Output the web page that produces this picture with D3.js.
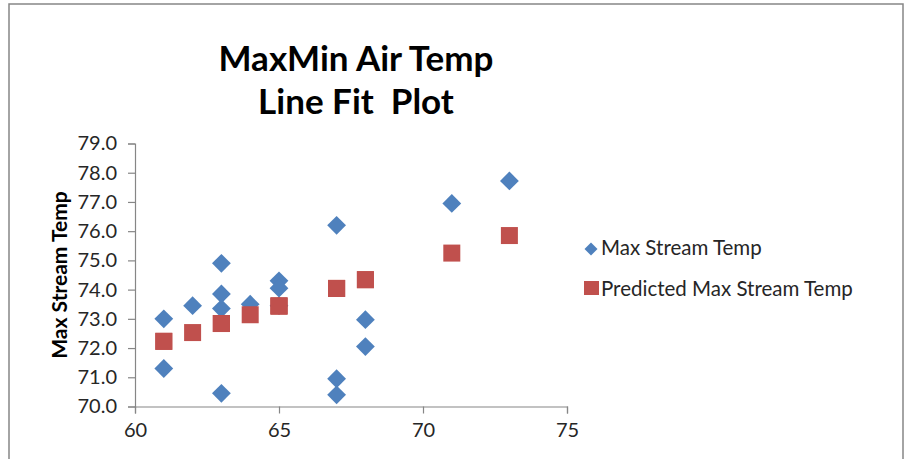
<!DOCTYPE html>
<html><head><meta charset="utf-8">
<script src="https://cdn.jsdelivr.net/npm/d3@7"></script>
<style>body{margin:0;background:#fff}svg{display:block}</style>
</head><body>
<script>
const airTemp =        [61, 61, 62, 63, 63, 63, 63, 64, 65, 65, 65, 67, 67, 67, 68, 68, 71, 73];
const maxStreamTemp =  [73.0, 71.3, 73.45, 74.9, 73.85, 73.35, 70.45, 73.5, 74.3, 74.05, 73.45, 76.2, 70.95, 70.4, 72.97, 72.05, 76.95, 77.72];
const predictedTemp =  [72.23, 72.23, 72.53, 72.84, 72.84, 72.84, 72.84, 73.14, 73.44, 73.44, 73.44, 74.04, 74.04, 74.04, 74.34, 74.34, 75.25, 75.85];
const xTicks = [60, 65, 70, 75];
const yTicks = [70, 71, 72, 73, 74, 75, 76, 77, 78, 79];
const titleLines = ["MaxMin Air Temp", "Line Fit  Plot"];
const seriesNames = ["Max Stream Temp", "Predicted Max Stream Temp"];

const W = 905, H = 459;
const svg = d3.select("body").append("svg").attr("width", W).attr("height", H);
svg.append("rect").attr("x", 9).attr("y", 4).attr("width", 894).attr("height", 470)
  .attr("fill", "#fff").attr("stroke", "#868686").attr("stroke-width", 1.5);

const x = d3.scaleLinear().domain([60, 75]).range([135, 567]);
const y = d3.scaleLinear().domain([70, 79]).range([406.5, 143.5]);

const font = "Lato, 'Open Sans', sans-serif";

// title
svg.append("g").selectAll("text").data(titleLines).join("text")
  .attr("x", 356).attr("y", (d, i) => 71 + i * 43)
  .attr("text-anchor", "middle").attr("font-family", font).attr("font-weight", "bold")
  .attr("font-size", 35).attr("fill", "#000").style("white-space", "pre").text(d => d);

// axes
const gx = svg.append("g").attr("transform", `translate(0,${y(70)})`)
  .call(d3.axisBottom(x).tickValues(xTicks).tickSize(7).tickPadding(9).tickFormat(d3.format("d")));
const gy = svg.append("g").attr("transform", `translate(${x(60)},0)`)
  .call(d3.axisLeft(y).tickValues(yTicks).tickSize(7).tickPadding(11).tickFormat(d3.format(".1f")));
[gx, gy].forEach(g => {
  g.select(".domain").attr("stroke", "#868686").attr("stroke-width", 1.2);
  g.selectAll(".tick line").attr("stroke", "#868686").attr("stroke-width", 1.2);
  g.selectAll(".tick text").attr("font-family", font).attr("font-size", 20).attr("fill", "#262626");
});

// y axis title
svg.append("text").attr("transform", `translate(67,${(y(70)+y(79))/2}) rotate(-90)`)
  .attr("text-anchor", "middle").attr("font-family", font).attr("font-weight", "bold")
  .attr("font-size", 21).attr("fill", "#000").text("Max Stream Temp");

const blue = "#4F81BD", red = "#C0504D";
const diamond = d3.symbol().type(d3.symbolDiamond2).size(225);

// actual
svg.append("g").selectAll("path").data(airTemp).join("path")
  .attr("d", diamond).attr("transform", (d, i) => `translate(${x(d)},${y(maxStreamTemp[i])})`)
  .attr("fill", blue);
// predicted
const sq = 17;
svg.append("g").selectAll("rect").data(airTemp).join("rect")
  .attr("x", d => x(d) - sq / 2).attr("y", (d, i) => y(predictedTemp[i]) - sq / 2)
  .attr("width", sq).attr("height", sq).attr("fill", red);

// legend
const lg = svg.append("g");
lg.append("path").attr("d", d3.symbol().type(d3.symbolDiamond2).size(108))
  .attr("transform", "translate(591,249)").attr("fill", blue);
lg.append("rect").attr("x", 584).attr("y", 281).attr("width", 15).attr("height", 14).attr("fill", red);
lg.selectAll("text").data(seriesNames).join("text")
  .attr("x", 601).attr("y", (d, i) => 255 + i * 41)
  .attr("font-family", font).attr("font-size", 20.5).attr("fill", "#262626").text(d => d);
</script>
</body></html>
